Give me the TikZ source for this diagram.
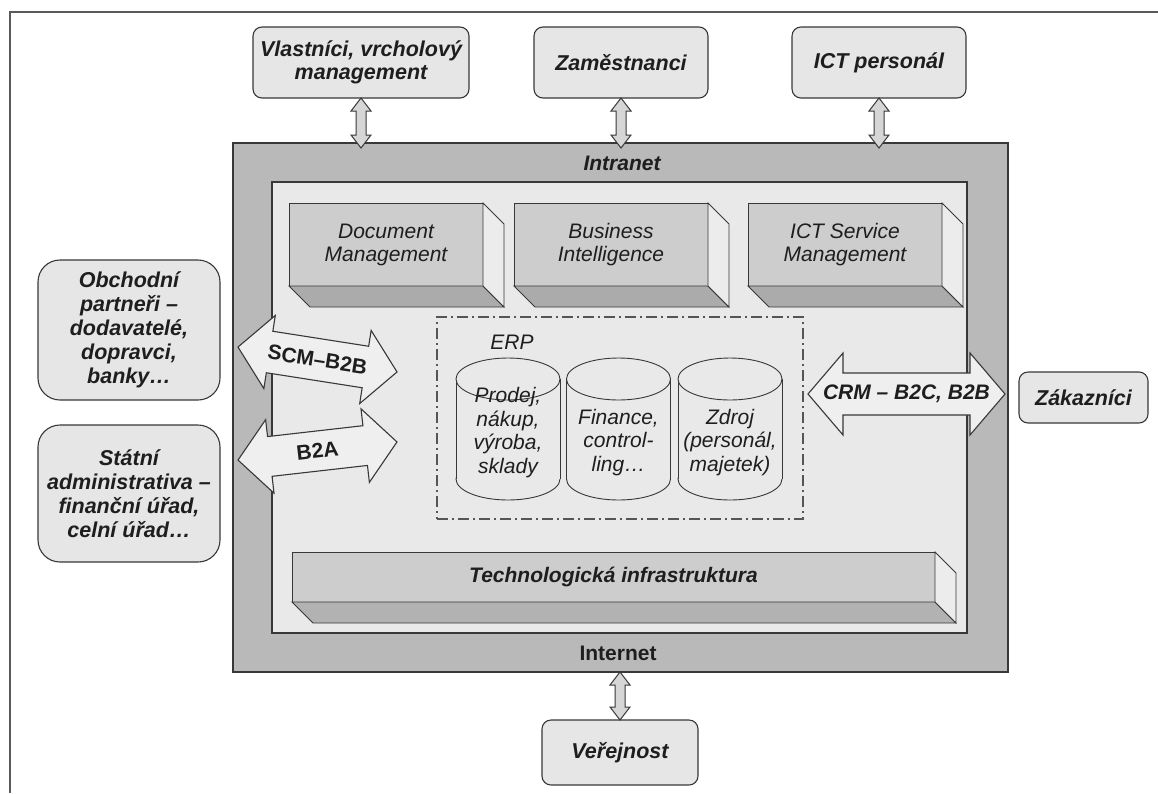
\documentclass[tikz,border=0pt]{standalone}
\usepackage{fontspec}
\setmainfont{Liberation Sans}
\usetikzlibrary{calc}

\definecolor{edge}{HTML}{383838}
\definecolor{framegray}{HTML}{5A5A5A}
\definecolor{bandgray}{HTML}{B9B9B9}
\definecolor{panelgray}{HTML}{E9E9E9}
\definecolor{boxfill}{HTML}{E6E6E6}
\definecolor{frontgray}{HTML}{CDCDCD}
\definecolor{botgray}{HTML}{ABABAB}
\definecolor{sidegray}{HTML}{ECECEC}
\definecolor{arrowfill}{HTML}{EFEFEF}
\definecolor{linkfill}{HTML}{D6D6D6}
\definecolor{dashgray}{HTML}{555555}
\definecolor{ink}{HTML}{1E1E1E}

% hollow vertical double arrow between two points (top, bottom)
\newcommand{\vlinkarrow}[2]{%
  \draw[linkarrow] let \p1=#1, \p2=#2 in
    (\x1,\y1) -- (\x1+10pt,\y1-13pt) -- (\x1+5pt,\y1-13pt) -- (\x1+5pt,\y2+13pt)
    -- (\x1+10pt,\y2+13pt) -- (\x1,\y2) -- (\x1-10pt,\y2+13pt) -- (\x1-5pt,\y2+13pt)
    -- (\x1-5pt,\y1-13pt) -- (\x1-10pt,\y1-13pt) -- cycle;}

% wide double arrow centred on the origin: length, head length, head half width, shaft half width
\newcommand{\dblarrowshape}[4]{%
  \draw[bigarrow] (-#1/2,0) -- (-#1/2+#2,-#3) -- (-#1/2+#2,-#4) -- (#1/2-#2,-#4)
    -- (#1/2-#2,-#3) -- (#1/2,0) -- (#1/2-#2,#3) -- (#1/2-#2,#4)
    -- (-#1/2+#2,#4) -- (-#1/2+#2,#3) -- cycle;}

% module drawn as a block with bottom and right faces
\newcommand{\module}[5]{% name, centre x, centre y, width, text
  \node[front, minimum width=#4] (#1) at (#2,#3) {#5};
  \draw[botface] (#1.south west) -- ++(21,21) -- ([shift={(21,21)}]#1.south east) -- (#1.south east) -- cycle;
  \draw[sideface] (#1.north east) -- ++(21,21) -- ([shift={(21,21)}]#1.south east) -- (#1.south east) -- cycle;}

% database drum
\newcommand{\drum}[4]{% name, centre x, text centre y, text
  \draw[drumline] (#2,479) ellipse [x radius=52, y radius=21];
  \fill[panelgray] (#2-52,379) rectangle (#2+52,479);
  \draw[drumline] (#2-52,379) -- (#2-52,479) (#2+52,379) -- (#2+52,479);
  \draw[drumline] (#2,379) ellipse [x radius=52, y radius=21];
  \node[txt, align=center, font=\fontsize{21}{23.5}\selectfont\itshape] (#1) at (#2,#3) {#4};}

\begin{document}
\begin{tikzpicture}[x=1pt,y=-1pt,
  txt/.style={text=ink, inner sep=0pt},
  ent/.style={draw=edge, fill=boxfill, rounded corners=9pt, line width=1.1pt, align=center,
    text=ink, font=\fontsize{21.5}{22.5}\selectfont\bfseries\itshape, inner sep=2pt, outer sep=0pt},
  party/.style={ent, rounded corners=22pt, font=\fontsize{21.5}{24}\selectfont\bfseries\itshape},
  band/.style={draw=edge, fill=bandgray, line width=1.3pt, outer sep=0pt, inner sep=0pt},
  panel/.style={draw=edge, fill=panelgray, line width=1.1pt, outer sep=0pt, inner sep=0pt},
  front/.style={draw=edge, fill=frontgray, line width=0.9pt, align=center, text=ink,
    font=\fontsize{21}{23}\selectfont\itshape, outer sep=0pt, inner sep=0pt, minimum height=83},
  botface/.style={draw=edge, fill=botgray, line width=0.9pt},
  sideface/.style={draw=edge, fill=sidegray, line width=0.9pt},
  bigarrow/.style={draw=edge, fill=arrowfill, line width=1.1pt},
  linkarrow/.style={draw=edge, fill=linkfill, line width=1pt},
  drumline/.style={draw=edge, fill=panelgray, line width=0.9pt},
  erpframe/.style={draw=dashgray, line width=1.2pt, dash pattern=on 11pt off 4pt on 2pt off 4pt,
    outer sep=0pt, inner sep=0pt},
  lbl/.style={txt, font=\fontsize{21}{24}\selectfont\bfseries},
  lblit/.style={txt, font=\fontsize{21}{24}\selectfont\bfseries\itshape}]

\useasboundingbox (0,0) rectangle (1158,793);
\fill[white] (0,0) rectangle (1158,793);

% outer frame
\draw[framegray, line width=1.3pt] (10,793) -- (10,12) -- (1158,12);

% company networks
\node[band, minimum width=775, minimum height=529] (net) at (620.5,407.5) {};
\node[panel, minimum width=695, minimum height=451] (lan) at (619.5,407.5) {};
\node[lblit] (intranet) at (622,163) {Intranet};
\node[lbl] (internet) at (618,653) {Internet};

% application modules
\module{dms}{386}{244.5}{194}{Document\\Management}
\module{bi}{611}{244.5}{194}{Business\\Intelligence}
\module{itsm}{845}{244.5}{194}{ICT Service\\Management}

% ERP
\node[erpframe, minimum width=366, minimum height=202] (erp) at (620,418) {};
\node[txt, font=\fontsize{21}{24}\selectfont\itshape] (erplabel) at (512,342) {ERP};
\drum{sales}{508}{432.5}{Prodej,\\nákup,\\výroba,\\sklady}
\drum{fin}{618.5}{442.5}{Finance,\\control-\\ling…}
\drum{res}{730}{442.5}{Zdroj\\(personál,\\majetek)}

% infrastructure layer
\node[front, minimum width=643, minimum height=50, font=\fontsize{21}{24}\selectfont\bfseries\itshape] (infra) at (613.5,577) {Technologická infrastruktura};
\draw[botface, fill=botgray!80!frontgray] (infra.south west) -- ++(21,21) -- ([shift={(21,21)}]infra.south east) -- (infra.south east) -- cycle;
\draw[sideface] (infra.north east) -- ++(21,21) -- ([shift={(21,21)}]infra.south east) -- (infra.south east) -- cycle;

% stakeholders
\node[ent, minimum width=216, minimum height=71] (owners) at (361,62.5) {Vlastníci, vrcholový\\management};
\node[ent, minimum width=174, minimum height=71] (staff) at (621,62.5) {Zaměstnanci};
\node[ent, minimum width=174, minimum height=71] (itstaff) at (879,62.5) {ICT personál};
\node[party, minimum width=182, minimum height=140] (partners) at (129,330) {Obchodní\\partneři –\\dodavatelé,\\dopravci,\\banky…};
\node[party, minimum width=182, minimum height=137] (state) at (129,493.5) {Státní\\administrativa –\\finanční úřad,\\celní úřad…};
\node[ent, minimum width=129, minimum height=51] (customers) at (1083.5,397.5) {Zákazníci};
\node[ent, minimum width=156, minimum height=65] (public) at (620,752.5) {Veřejnost};

% access arrows
\vlinkarrow{(owners.south)}{($(owners.south |- net.north)+(0,5)$)}
\vlinkarrow{(staff.south)}{($(staff.south |- net.north)+(0,5)$)}
\vlinkarrow{(itstaff.south)}{($(itstaff.south |- net.north)+(0,5)$)}
\vlinkarrow{(net.south -| public.north)}{(public.north)}

% B2B / B2A / CRM channels
\begin{scope}[shift={(317.5,359.5)}, rotate=-8.9]
  \dblarrowshape{161}{32}{37}{21}
  \node[lbl, transform shape] (scm) at (0,0) {SCM–B2B};
\end{scope}
\begin{scope}[shift={(317.5,451)}, rotate=6.5]
  \dblarrowshape{160}{32}{37}{20}
  \node[lbl, transform shape] (b2a) at (0,0) {B2A};
\end{scope}
\begin{scope}[shift={(906.5,394)}]
  \dblarrowshape{197}{35}{41}{21}
  \node[lblit] (crm) at (0,0) {CRM – B2C, B2B};
\end{scope}

\end{tikzpicture}
\end{document}
